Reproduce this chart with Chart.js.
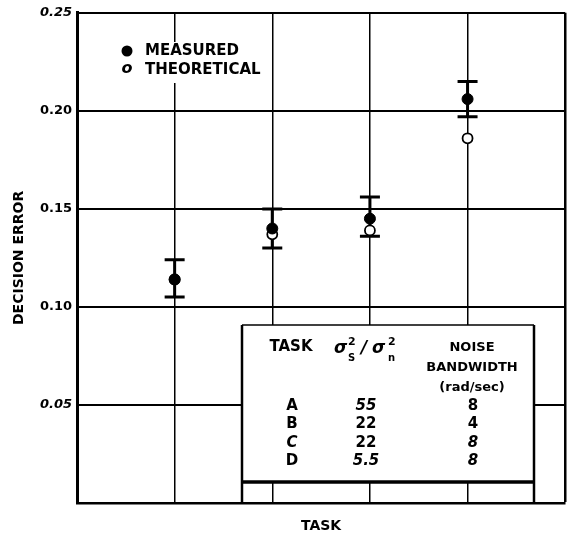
<!DOCTYPE html>
<html>
<head>
<meta charset="utf-8">
<script src="https://cdn.jsdelivr.net/npm/chart.js@4.4.0/dist/chart.umd.min.js"></script>
<style>
  body { margin: 0; background: #fff; }
  #wrap { width: 572px; height: 545px; }
</style>
</head>
<body>
<div id="wrap"><canvas id="myChart" width="572" height="545"></canvas></div>
<script>
// data
const tasks = ['A', 'B', 'C', 'D'];
const measured = [0.114, 0.140, 0.145, 0.206];
const theoretical = [0.114, 0.137, 0.139, 0.186];
const errorHigh = [0.124, 0.150, 0.156, 0.215];
const errorLow = [0.105, 0.130, 0.136, 0.197];
const yTicks = [0.05, 0.10, 0.15, 0.20, 0.25];
const snrRatios = ['55', '22', '22', '5.5'];
const noiseBandwidths = ['8', '4', '8', '8'];

const FONT = 'DejaVu Sans';

function bold(size, italic) {
  return (italic ? 'italic ' : '') + 'bold ' + size + 'px "' + FONT + '"';
}

// error bars, drawn through the chart scales
const errorBars = {
  id: 'errorBars',
  beforeDatasetsDraw(chart) {
    const ctx = chart.ctx, xs = chart.scales.x, ys = chart.scales.y;
    ctx.save();
    ctx.strokeStyle = '#000';
    ctx.lineWidth = 3;
    tasks.forEach((t, i) => {
      const x = xs.getPixelForValue(i + 1);
      const yHi = ys.getPixelForValue(errorHigh[i]);
      const yLo = ys.getPixelForValue(errorLow[i]);
      ctx.beginPath();
      ctx.moveTo(x, yHi); ctx.lineTo(x, yLo);
      ctx.moveTo(x - 10, yHi); ctx.lineTo(x + 10, yHi);
      ctx.moveTo(x - 10, yLo); ctx.lineTo(x + 10, yLo);
      ctx.stroke();
    });
    ctx.restore();
  }
};

// legend box and the task table inside the plot
const italicTask = [false, false, true, false];
const italicSnr = [true, false, false, true];
const italicBw = [false, false, true, true];

const overlays = {
  id: 'overlays',
  afterDatasetsDraw(chart) {
    const ctx = chart.ctx;
    ctx.save();
    // legend
    ctx.fillStyle = '#fff';
    ctx.fillRect(112, 42, 160, 41);
    ctx.fillStyle = '#000';
    ctx.beginPath();
    ctx.arc(127, 51, 5.5, 0, Math.PI * 2);
    ctx.fill();
    ctx.textBaseline = 'middle';
    ctx.textAlign = 'center';
    ctx.font = bold(16, true);
    ctx.fillText('o', 127, 69);
    ctx.textAlign = 'left';
    ctx.font = bold(15);
    ctx.fillText('MEASURED', 145, 51);
    ctx.fillText('THEORETICAL', 145, 70);

    // table
    const L = 242, R = 534, T = 325, B = 482;
    ctx.fillStyle = '#fff';
    ctx.fillRect(L, T, R - L, B - T);
    ctx.strokeStyle = '#000';
    ctx.lineWidth = 1.5;
    ctx.beginPath(); ctx.moveTo(L, T); ctx.lineTo(R, T); ctx.stroke();
    ctx.lineWidth = 2.5;
    ctx.beginPath(); ctx.moveTo(L, T); ctx.lineTo(L, 503); ctx.stroke();
    ctx.beginPath(); ctx.moveTo(R, T); ctx.lineTo(R, 503); ctx.stroke();
    ctx.lineWidth = 3.5;
    ctx.beginPath(); ctx.moveTo(L, B); ctx.lineTo(R, B); ctx.stroke();

    ctx.fillStyle = '#000';
    ctx.textAlign = 'center';
    ctx.textBaseline = 'alphabetic';
    ctx.font = bold(15);
    ctx.fillText('TASK', 291, 351);
    ctx.font = bold(13);
    ctx.fillText('NOISE', 472, 351);
    ctx.fillText('BANDWIDTH', 472, 371);
    ctx.fillText('(rad/sec)', 472, 391);

    // sigma_s^2 / sigma_n^2
    ctx.textAlign = 'left';
    ctx.font = 'italic bold 17px "' + FONT + '"';
    ctx.fillText('\u03C3', 334, 353);
    ctx.fillText('/', 361, 353);
    ctx.fillText('\u03C3', 372, 353);
    ctx.font = bold(11);
    ctx.fillText('2', 348, 345);
    ctx.fillText('2', 388, 345);
    ctx.font = bold(10);
    ctx.fillText('S', 348, 361);
    ctx.fillText('n', 388, 361);

    const rowY = [406, 424, 443, 461];
    ctx.textAlign = 'center';
    ctx.textBaseline = 'middle';
    tasks.forEach((t, i) => {
      ctx.font = bold(15, italicTask[i]);
      ctx.fillText(t, 292, rowY[i]);
      ctx.font = bold(15, italicSnr[i]);
      ctx.fillText(snrRatios[i], 366, rowY[i]);
      ctx.font = bold(15, italicBw[i]);
      ctx.fillText(noiseBandwidths[i], 473, rowY[i]);
    });
    ctx.restore();
  }
};

new Chart('myChart', {
  type: 'scatter',
  data: {
    datasets: [{
      label: 'MEASURED',
      data: tasks.map((t, i) => ({ x: i + 1, y: measured[i] })),
      pointRadius: 5.5,
      pointBackgroundColor: '#000',
      pointBorderColor: '#000',
      pointBorderWidth: 1
    }, {
      label: 'THEORETICAL',
      data: tasks.map((t, i) => ({ x: i + 1, y: theoretical[i] })),
      pointRadius: 5,
      pointBackgroundColor: '#fff',
      pointBorderColor: '#000',
      pointBorderWidth: 1.8
    }]
  },
  options: {
    responsive: false,
    animation: false,
    events: [],
    layout: { padding: { top: 11, right: 6, left: 0, bottom: 0 } },
    plugins: { legend: { display: false }, tooltip: { enabled: false } },
    scales: {
      x: {
        type: 'linear', min: 0, max: 5,
        afterBuildTicks: s => { s.ticks = [1, 2, 3, 4, 5].map(v => ({ value: v })); },
        ticks: { display: false },
        grid: { color: '#000', lineWidth: c => c.tick && c.tick.value === 5 ? 2.5 : 1.5, drawTicks: false },
        border: { color: '#000', width: 2.5 },
        title: { display: true, text: 'TASK', color: '#000', font: { family: FONT, weight: 'bold', size: 14 }, padding: { top: 0, bottom: 10 } },
        afterFit: s => { s.height = 42; }
      },
      y: {
        min: 0, max: 0.25,
        afterBuildTicks: s => { s.ticks = yTicks.map(v => ({ value: v })); },
        ticks: {
          color: '#000', padding: 5,
          font: c => ({ family: FONT, weight: 'bold', size: 13, style: (c.tick && (c.tick.value === 0.25 || c.tick.value === 0.05)) ? 'italic' : 'normal' }),
          callback: v => v.toFixed(2)
        },
        grid: { color: '#000', lineWidth: 2, drawTicks: false },
        border: { color: '#000', width: 3 },
        title: { display: true, text: 'DECISION ERROR', color: '#000', font: { family: FONT, weight: 'bold', size: 14 }, padding: { top: 11, bottom: 0 } },
        afterFit: s => { s.width = 77; }
      }
    }
  },
  plugins: [errorBars, overlays]
});
</script>
</body>
</html>
